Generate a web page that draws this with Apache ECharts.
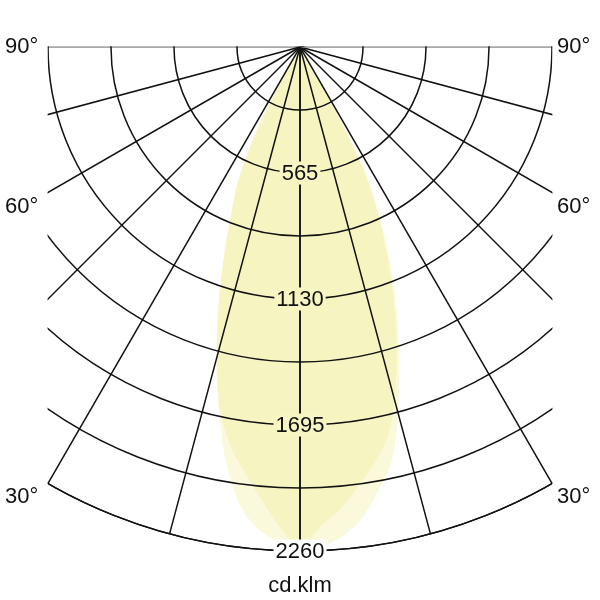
<!DOCTYPE html>
<html><head><meta charset="utf-8">
<script src="https://cdn.jsdelivr.net/npm/echarts@6/dist/echarts.min.js"></script>
<style>html,body{margin:0;padding:0;background:#fff}#c{width:600px;height:600px}</style>
</head><body><div id="c"></div>
<script>
// ---- data ----
const radiusMax = 2260;
const radiusStep = 282.5;
const radiusTickLabels = [565, 1130, 1695, 2260];
const angleStep = 15;
const angleTickLabels = ['90°', '60°', '30°'];
const unitLabel = 'cd.klm';
// angle from nadir (negative = left side)
const lobeAngles = [-35,-32.5,-30,-27.5,-25,-22.5,-20,-17.5,-15,-12.5,-10,-7.5,-5,-2.5,0,
                    2.5,5,7.5,10,12.5,15,17.5,20,22.5,25,27.5,30,32.5,35];
// rounded lobe (cd/klm)
const lobeRounded = [0,20,120,420,650,810,1000,1220,1450,1680,1900,2070,2170,2220,2250,
                     2240,2200,2130,2020,1900,1700,1480,1270,1060,850,640,250,40,0];
// pointed lobe (cd/klm)
const lobePointed = [0,20,110,400,640,800,990,1210,1440,1660,1810,1920,2030,2150,2240,
                     2150,2080,1990,1900,1800,1640,1440,1240,1030,830,600,220,40,0];

// ---- chart ----
const toPolar = (vals) => vals.map((v, i) => {
  const a = lobeAngles[i];
  return [v, a < 0 ? a + 360 : a];
});
const splitColors = [];
for (let a = 0; a < 360; a += angleStep) splitColors.push((a === 90 || a === 270) ? '#8a8a8a' : '#111');
const FONT = 'Liberation Sans, Arial, sans-serif';
const fill = 'rgba(240,236,135,0.30)';
const coreBg = '#f7f5c2';
const LW = 1.5;

const chart = echarts.init(document.getElementById('c'), null, {renderer: 'canvas'});
chart.setOption({
  animation: false,
  backgroundColor: '#fff',
  polar: {center: [300, 47], radius: 504},
  angleAxis: {
    type: 'value', min: 0, max: 360, interval: angleStep,
    startAngle: 270, clockwise: false, z: 3,
    axisLine: {show: true, lineStyle: {color: '#111', width: LW}},
    axisTick: {show: false}, axisLabel: {show: false},
    splitLine: {show: true, lineStyle: {color: splitColors, width: LW}}
  },
  radiusAxis: {
    type: 'value', min: 0, max: radiusMax, interval: radiusStep, z: 4,
    axisLine: {show: true, lineStyle: {color: '#111', width: LW}},
    axisTick: {show: false},
    splitLine: {show: true, lineStyle: {color: '#111', width: LW}},
    axisLabel: {
      margin: 0, align: 'center', verticalAlign: 'middle',
      showMinLabel: false, showMaxLabel: true,
      formatter: (v) => {
        if (!radiusTickLabels.some(t => Math.abs(t - v) < 1e-6)) return '';
        return (Math.abs(v - radiusMax) < 1e-6 ? '{w|' : '{y|') + Math.round(v) + '}';
      },
      rich: {
        y: {backgroundColor: coreBg, padding: [1, 2, 0, 2], fontSize: 22, fontFamily: FONT, color: '#111'},
        w: {backgroundColor: '#fff', padding: [1, 2, 0, 2], fontSize: 22, fontFamily: FONT, color: '#111'}
      }
    }
  },
  series: [lobeRounded, lobePointed].map((d) => ({
    type: 'line', coordinateSystem: 'polar', data: toPolar(d),
    smooth: 0.3, showSymbol: false, silent: true, z: 1,
    lineStyle: {width: 0},
    areaStyle: {color: fill, opacity: 1}
  })),
  graphic: [
    {type: 'rect', z: 100, shape: {x: 0, y: 0, width: 47.6, height: 600}, style: {fill: '#fff'}},
    {type: 'rect', z: 100, shape: {x: 552.4, y: 0, width: 47.6, height: 600}, style: {fill: '#fff'}},
    {type: 'rect', z: 100, shape: {x: 0, y: 0, width: 600, height: 46.3}, style: {fill: '#fff'}},
    ...angleTickLabels.flatMap((t, i) => {
      const ys = [47, 207, 497];
      return [
        {type: 'text', z: 101, x: 5, y: ys[i], style: {text: t, fontSize: 22, fontFamily: FONT, fill: '#111', textVerticalAlign: 'middle', verticalAlign: 'middle'}},
        {type: 'text', z: 101, x: 557, y: ys[i], style: {text: t, fontSize: 22, fontFamily: FONT, fill: '#111', textVerticalAlign: 'middle', verticalAlign: 'middle'}}
      ];
    }),
    {type: 'text', z: 101, x: 300, y: 586, style: {text: unitLabel, fontSize: 22, fontFamily: FONT, fill: '#111', align: 'center', textAlign: 'center', verticalAlign: 'middle', textVerticalAlign: 'middle'}}
  ]
});
</script>
</body></html>
